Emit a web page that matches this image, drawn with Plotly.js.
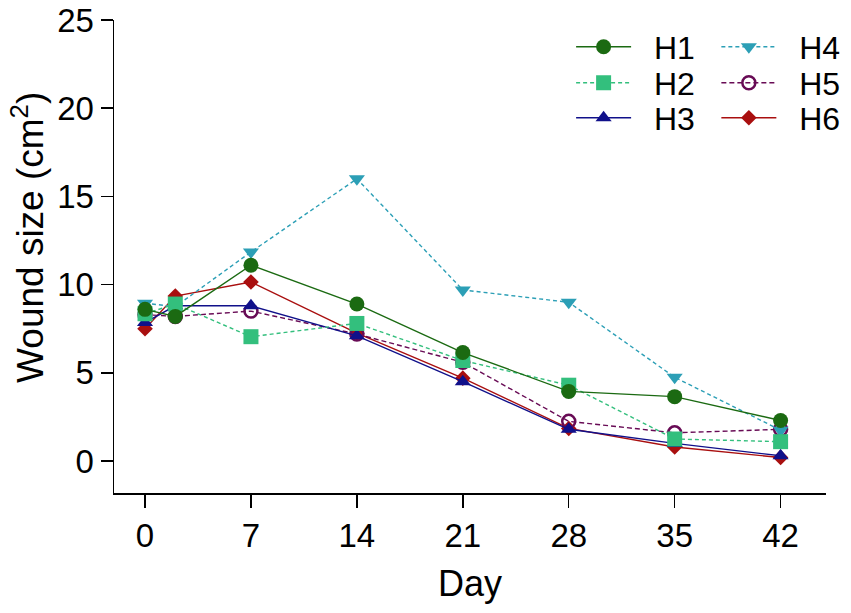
<!DOCTYPE html>
<html>
<head>
<meta charset="utf-8">
<script src="https://cdn.plot.ly/plotly-3.0.1.min.js"></script>
<style>
  html, body { margin: 0; padding: 0; background: #fff; }
  #chart { width: 851px; height: 613px; }
</style>
</head>
<body>
<div id="chart"></div>
<script>
// days of measurement
var days = [0, 2, 7, 14, 21, 28, 35, 42];

// wound size (cm2) per horse
var h1 = [8.6, 8.2, 11.1, 8.9, 6.15, 3.95, 3.65, 2.3];
var h2 = [8.35, 8.9, 7.05, 7.8, 5.7, 4.3, 1.25, 1.1];
var h3 = [7.85, 8.8, 8.8, 7.1, 4.5, 1.8, 1.0, 0.3];
var h4 = [8.95, 8.75, 11.85, 16.0, 9.7, 9.0, 4.75, 1.75];
var h5 = [8.3, 8.2, 8.5, 7.2, 5.6, 2.25, 1.6, 1.8];
var h6 = [7.5, 9.35, 10.15, 7.25, 4.7, 1.85, 0.8, 0.2];

var names = ['H1', 'H2', 'H3', 'H4', 'H5', 'H6'];
var tickVals = [0, 7, 14, 21, 28, 35, 42];
var yTicks = [0, 5, 10, 15, 20, 25];

var FONT = 'Liberation Sans, Arial, sans-serif';
var PAD = '\u00a0\u00a0'; // a bit more room between legend line and label

function series(name, y, color, symbol, size, dash, leg) {
    var open = symbol.indexOf('open') >= 0;
    return {
        x: days, y: y, name: PAD + name,
        type: 'scatter', mode: 'lines+markers',
        line: { color: color, width: 1.4, dash: dash },
        marker: {
            symbol: symbol, size: size, color: color,
            line: { color: color, width: open ? 2.5 : 0 }
        },
        legend: leg
    };
}

// H6 drawn first, H1 last (H1 sits on top in the reference)
var traces = [
    series(names[5], h6, '#a90f0f', 'diamond', 12, 'solid', 'legend6'),
    series(names[4], h5, '#680b55', 'circle-open', 13, '5px,3px', 'legend5'),
    series(names[3], h4, '#2c9fb6', 'triangle-down', 14, '4px,3px', 'legend4'),
    series(names[2], h3, '#10108a', 'triangle-up', 14, 'solid', 'legend3'),
    series(names[1], h2, '#33bf7d', 'square', 15, '4px,3px', 'legend2'),
    series(names[0], h1, '#1b6a12', 'circle', 15, 'solid', 'legend')
];

// one small legend per entry so each row sits where the reference has it
function leg(x, y) {
    return {
        font: { family: FONT, size: 32, color: '#000' },
        bgcolor: 'rgba(0,0,0,0)', borderwidth: 0,
        xanchor: 'left', yanchor: 'middle', x: x, y: y,
        itemwidth: 55, tracegroupgap: 0
    };
}

var layout = {
    width: 851, height: 613,
    margin: { l: 114, r: 25, t: 20, b: 120, autoexpand: false },
    paper_bgcolor: '#fff', plot_bgcolor: '#fff',
    font: { family: FONT, size: 33, color: '#000' },
    showlegend: true,
    legend: leg(0.642, 0.943),
    legend2: leg(0.642, 0.867),
    legend3: leg(0.642, 0.793),
    legend4: leg(0.846, 0.943),
    legend5: leg(0.846, 0.867),
    legend6: leg(0.846, 0.793),
    xaxis: {
        range: [-2.05, 45], tickvals: tickVals, ticktext: tickVals.map(String),
        showgrid: false, zeroline: false, showline: true, linecolor: '#000', linewidth: 1.5,
        ticks: 'outside', ticklen: 13, tickwidth: 1.5, tickcolor: '#000',
        tickfont: { family: FONT, size: 33 },
        title: { text: 'Day', font: { family: FONT, size: 36 }, standoff: 17 }
    },
    yaxis: {
        range: [-1.81, 25], tickvals: yTicks,
        showgrid: false, zeroline: false, showline: true, linecolor: '#000', linewidth: 1.5,
        ticks: 'outside', ticklen: 12, tickwidth: 1.5, tickcolor: '#000',
        tickfont: { family: FONT, size: 33 }
    },
    // y title sits a little above the axis middle in the reference, so place it by hand
    annotations: [{
        text: 'Wound size (cm<sup>2</sup>)', textangle: -90,
        xref: 'paper', yref: 'paper', x: -0.121, y: 0.541,
        xanchor: 'center', yanchor: 'middle', showarrow: false,
        font: { family: FONT, size: 37, color: '#000' }
    }]
};

Plotly.newPlot('chart', traces, layout, { displayModeBar: false, staticPlot: true });
</script>
</body>
</html>
